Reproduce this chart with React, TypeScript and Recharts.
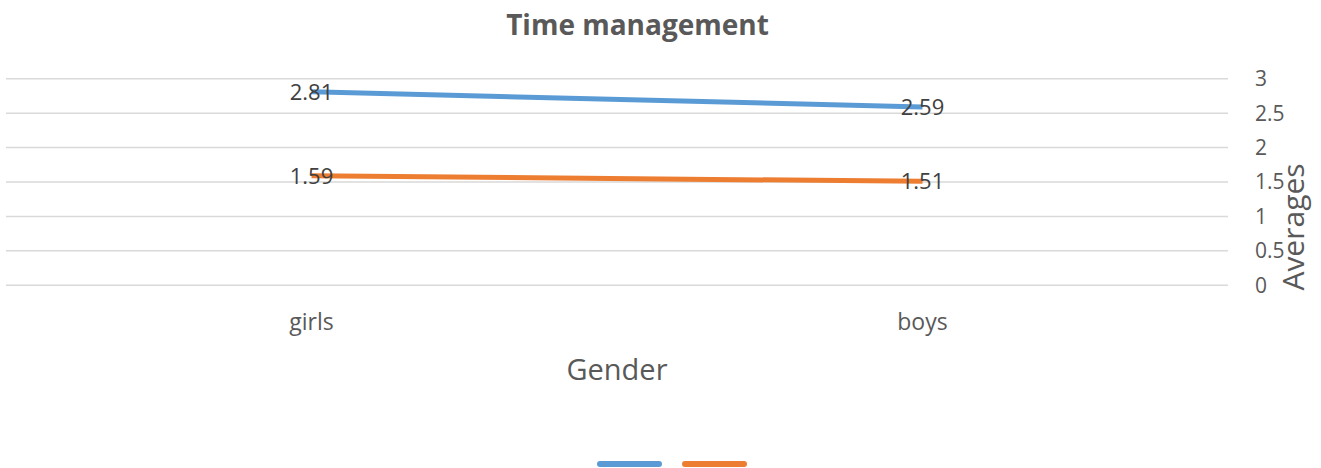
import { LineChart, Line, XAxis, YAxis, CartesianGrid, Legend, LabelList } from "recharts";

const categories = ["girls", "boys"];
const seriesTop = [2.81, 2.59];
const seriesBottom = [1.59, 1.51];
const yTicks = [0, 0.5, 1, 1.5, 2, 2.5, 3];

const BLUE = "#5B9BD5";
const ORANGE = "#ED7D31";
const FONT = "'Open Sans', 'Noto Sans', sans-serif";

const data = categories.map((c, i) => ({
    gender: c,
    top: seriesTop[i],
    bottom: seriesBottom[i],
}));

const LegendLines = () => (
    <div style={{ height: 20, display: "flex", justifyContent: "center", paddingLeft: 17, gap: 20 }}>
        {[BLUE, ORANGE].map((c) => (
            <svg key={c} width={65} height={20}>
                <line x1={3} y1={16} x2={62} y2={16} stroke={c} strokeWidth={6} strokeLinecap="round" />
            </svg>
        ))}
    </div>
);

export default function App() {
    return (
        <div style={{ position: "absolute", left: 0, top: 0, width: 1321, height: 468, background: "#fff", fontFamily: FONT }}>
            <div
                style={{
                    position: "absolute",
                    left: 0,
                    top: 10,
                    width: 1275,
                    textAlign: "center",
                    fontSize: 28,
                    lineHeight: "28px",
                    fontWeight: 700,
                    color: "#595959",
                }}
            >
                Time management
            </div>
            <LineChart
                width={1321}
                height={468}
                data={data}
                margin={{ top: 78.7, right: 0, bottom: 0, left: 6 }}
            >
                <CartesianGrid vertical={false} stroke="#D9D9D9" strokeWidth={1.5} />
                <XAxis
                    dataKey="gender"
                    scale="band"
                    height={162.7}
                    axisLine={false}
                    tickLine={false}
                    tickSize={0}
                    tickMargin={28}
                    tick={{ fill: "#595959", fontSize: 23, fontFamily: FONT }}
                    label={{
                        value: "Gender",
                        position: "insideTop",
                        offset: 74,
                        fill: "#595959",
                        fontSize: 29,
                        fontFamily: FONT,
                    }}
                />
                <YAxis
                    orientation="right"
                    width={93}
                    domain={[0, 3]}
                    ticks={yTicks}
                    axisLine={false}
                    tickLine={false}
                    tickSize={0}
                    tickMargin={27}
                    tick={{ fill: "#595959", fontSize: 21, fontFamily: FONT }}
                    label={{
                        content: () => (
                            <text
                                x={1304}
                                y={227}
                                transform="rotate(-90 1304 227)"
                                textAnchor="middle"
                                fill="#595959"
                                fontSize={30}
                                fontFamily={FONT}
                            >
                                Averages
                            </text>
                        ),
                    }}
                />
                <Legend verticalAlign="bottom" height={20} content={<LegendLines />} />
                <Line
                    dataKey="top"
                    name=" "
                    stroke={BLUE}
                    strokeWidth={5}
                    dot={false}
                    isAnimationActive={false}
                >
                    <LabelList dataKey="top" position="center" fill="#404040" fontSize={22} fontFamily={FONT} />
                </Line>
                <Line
                    dataKey="bottom"
                    name="  "
                    stroke={ORANGE}
                    strokeWidth={5}
                    dot={false}
                    isAnimationActive={false}
                >
                    <LabelList dataKey="bottom" position="center" fill="#404040" fontSize={22} fontFamily={FONT} />
                </Line>
            </LineChart>
        </div>
    );
}
